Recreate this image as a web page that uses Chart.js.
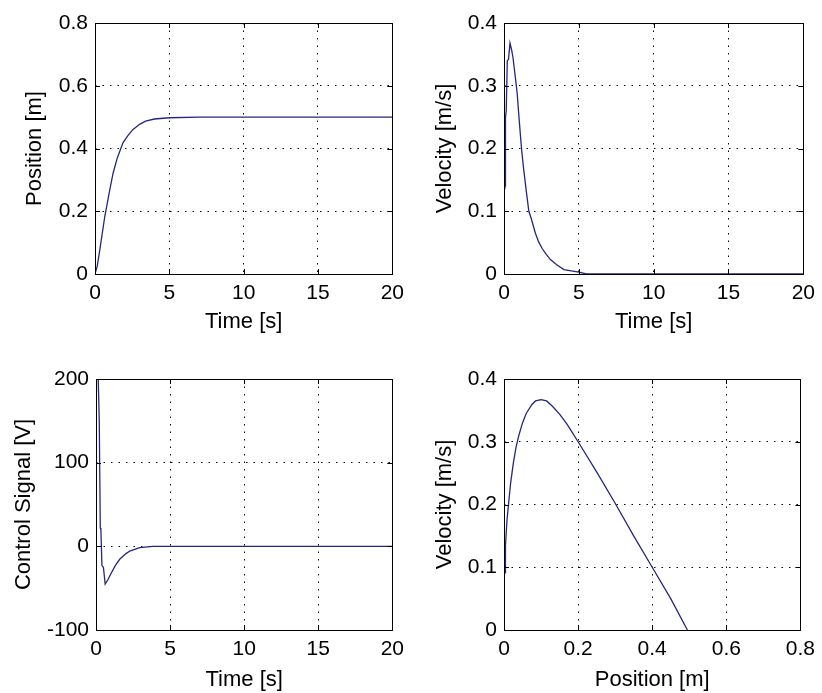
<!DOCTYPE html>
<html>
<head>
<meta charset="utf-8">
<script src="https://cdn.jsdelivr.net/npm/chart.js@4/dist/chart.umd.min.js"></script>
<style>
  body { margin: 0; background: #fff; }
  .wrap { position: relative; width: 822px; height: 693px; }
  canvas { position: absolute; }
</style>
</head>
<body>
<div class="wrap">
  <canvas id="posChart" width="411" height="346" style="left:0;top:0"></canvas>
  <canvas id="velChart" width="411" height="346" style="left:411px;top:0"></canvas>
  <canvas id="ctrlChart" width="411" height="347" style="left:0;top:346px"></canvas>
  <canvas id="phaseChart" width="411" height="347" style="left:411px;top:346px"></canvas>
</div>
<script>
// values
const posTime = [0, 0.15, 0.3, 0.66, 1.0, 1.22, 1.5, 1.88, 2.2, 2.54, 3.0, 3.4, 4.0, 5.0, 7.0, 20];
const posValue = [0, 0.025, 0.07, 0.184, 0.27, 0.322, 0.37, 0.418, 0.44, 0.46, 0.477, 0.487, 0.494, 0.498, 0.5, 0.5];

const velTime = [0.05, 0.07, 0.1, 0.15, 0.22, 0.3, 0.4, 0.51, 0.6, 0.75, 0.88, 1.0, 1.17, 1.3, 1.5, 1.66, 1.8, 2.1, 2.3, 2.54, 2.8, 3.1, 3.5, 4.0, 4.5, 5.0, 5.5, 20];
const velValue = [0.135, 0.14, 0.25, 0.26, 0.34, 0.342, 0.368, 0.357, 0.345, 0.315, 0.288, 0.25, 0.2, 0.17, 0.13, 0.1, 0.09, 0.065, 0.052, 0.041, 0.032, 0.023, 0.015, 0.007, 0.005, 0.003, 0, 0];

const ctrlTime = [0, 0.15, 0.22, 0.25, 0.29, 0.33, 0.4, 0.5, 0.62, 0.8, 1.06, 1.3, 1.6, 2.0, 2.28, 2.95, 3.83, 4.5, 20];
const ctrlValue = [200, 200, 150, 150, 22, 20, -23, -25, -45, -40, -31, -23, -15.5, -9, -5.6, -1.6, 0, 0, 0];

const phasePos = [0.004, 0.004, 0.008, 0.013, 0.018, 0.025, 0.032, 0.04, 0.05, 0.06, 0.075, 0.085, 0.1, 0.115, 0.13, 0.15, 0.17, 0.185, 0.2, 0.25, 0.3, 0.35, 0.4, 0.45, 0.495];
const phaseVel = [0.09, 0.135, 0.175, 0.205, 0.235, 0.265, 0.29, 0.31, 0.33, 0.345, 0.359, 0.365, 0.367, 0.365, 0.357, 0.344, 0.328, 0.314, 0.3, 0.252, 0.202, 0.15, 0.1, 0.05, 0];

const timeTicks = [0, 5, 10, 15, 20];

const lineColor = "#26267f";
const fontFamily = "'Liberation Sans', Arial, sans-serif";

function toPoints(xs, ys) {
  return xs.map((x, i) => ({ x: x, y: ys[i] }));
}

// matlab style box with inward ticks
const boxPlugin = {
  id: "box",
  afterDatasetsDraw(chart) {
    const { ctx, chartArea: a, scales } = chart;
    ctx.save();
    ctx.strokeStyle = "#000";
    ctx.lineWidth = 1;
    ctx.beginPath();
    scales.x.ticks.forEach((t) => {
      const px = Math.round(scales.x.getPixelForValue(t.value)) + 0.5;
      ctx.moveTo(px, a.bottom);
      ctx.lineTo(px, a.bottom - 5);
      ctx.moveTo(px, a.top);
      ctx.lineTo(px, a.top + 5);
    });
    scales.y.ticks.forEach((t) => {
      const py = Math.round(scales.y.getPixelForValue(t.value)) + 0.5;
      ctx.moveTo(a.left, py);
      ctx.lineTo(a.left + 5, py);
      ctx.moveTo(a.right, py);
      ctx.lineTo(a.right - 5, py);
    });
    ctx.stroke();
    ctx.strokeRect(Math.round(a.left) + 0.5, Math.round(a.top) + 0.5,
      Math.round(a.right - a.left), Math.round(a.bottom - a.top));
    ctx.restore();
  },
};

function buildChart(id, points, opts) {
  const tickFont = { family: fontFamily, size: 21 };
  const titleFont = { family: fontFamily, size: 22 };
  return new Chart(document.getElementById(id), {
    type: "scatter",
    data: {
      datasets: [
        {
          data: points,
          showLine: true,
          borderColor: lineColor,
          borderWidth: 1.3,
          pointRadius: 0,
          tension: 0,
        },
      ],
    },
    options: {
      responsive: false,
      animation: false,
      layout: { padding: opts.padding },
      plugins: { legend: { display: false }, tooltip: { enabled: false } },
      scales: {
        x: {
          type: "linear",
          min: opts.xMin,
          max: opts.xMax,
          afterFit: (s) => { s.height = opts.xHeight; },
          afterBuildTicks: (s) => { s.ticks = opts.xTicks.map((v) => ({ value: v })); },
          ticks: { color: "#000", font: tickFont, padding: 7, autoSkip: false, maxRotation: 0 },
          grid: { color: "#000", lineWidth: 1, drawTicks: false, borderDash: [1.5, 6] },
          border: { display: false, dash: [1.5, 6] },
          title: {
            display: true,
            text: opts.xTitle,
            color: "#000",
            font: titleFont,
            padding: { top: 0, bottom: opts.xTitlePad },
          },
        },
        y: {
          type: "linear",
          min: opts.yMin,
          max: opts.yMax,
          afterFit: (s) => { s.width = opts.yWidth; },
          afterBuildTicks: (s) => { s.ticks = opts.yTicks.map((v) => ({ value: v })); },
          ticks: { color: "#000", font: tickFont, padding: 7, autoSkip: false },
          grid: { color: "#000", lineWidth: 1, drawTicks: false, borderDash: [1.5, 6] },
          border: { display: false, dash: [1.5, 6] },
          title: {
            display: true,
            text: opts.yTitle,
            color: "#000",
            font: titleFont,
            padding: { top: opts.yTitleOffset, bottom: 0 },
          },
        },
      },
    },
    plugins: [boxPlugin],
  });
}

buildChart("posChart", toPoints(posTime, posValue), {
  padding: { top: 23, right: 14, left: 0, bottom: 0 },
  xMin: 0, xMax: 20, xTicks: timeTicks, xTitle: "Time [s]", xHeight: 72, xTitlePad: 11,
  yMin: 0, yMax: 0.8, yTicks: [0, 0.2, 0.4, 0.6, 0.8], yTitle: "Position [m]",
  yWidth: 95, yTitleOffset: 22,
});

buildChart("velChart", toPoints(velTime, velValue), {
  padding: { top: 23, right: 16, left: 0, bottom: 0 },
  xMin: 0, xMax: 20, xTicks: timeTicks, xTitle: "Time [s]", xHeight: 72, xTitlePad: 11,
  yMin: 0, yMax: 0.4, yTicks: [0, 0.1, 0.2, 0.3, 0.4], yTitle: "Velocity [m/s]",
  yWidth: 93, yTitleOffset: 21,
});

buildChart("ctrlChart", toPoints(ctrlTime, ctrlValue), {
  padding: { top: 33, right: 14, left: 0, bottom: 0 },
  xMin: 0, xMax: 20, xTicks: timeTicks, xTitle: "Time [s]", xHeight: 63, xTitlePad: 0,
  yMin: -100, yMax: 200, yTicks: [-100, 0, 100, 200], yTitle: "Control Signal [V]",
  yWidth: 96, yTitleOffset: 11,
});

buildChart("phaseChart", toPoints(phasePos, phaseVel), {
  padding: { top: 33, right: 16, left: 0, bottom: 0 },
  xMin: 0, xMax: 0.8, xTicks: [0, 0.2, 0.4, 0.6, 0.8], xTitle: "Position [m]", xHeight: 63, xTitlePad: 0,
  yMin: 0, yMax: 0.4, yTicks: [0, 0.1, 0.2, 0.3, 0.4], yTitle: "Velocity [m/s]",
  yWidth: 93, yTitleOffset: 21,
});
</script>
</body>
</html>
